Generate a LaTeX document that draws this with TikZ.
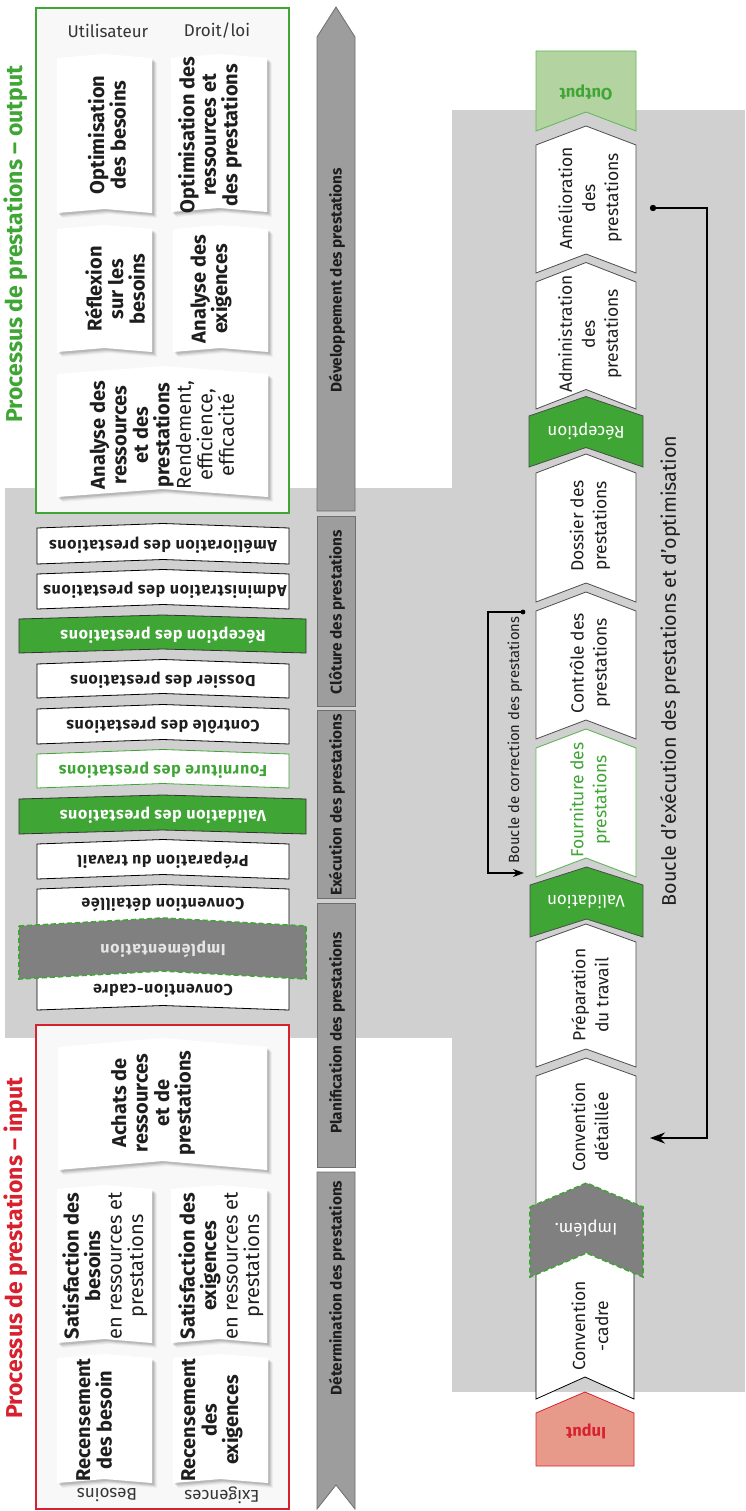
\documentclass[tikz,border=0pt]{standalone}
\usepackage{fontspec}
\setmainfont{Fira Sans}
\newfontfamily\trackfont[LetterSpace=4]{Fira Sans}
\usetikzlibrary{arrows.meta}

\definecolor{fgreen}{HTML}{3FA535}
\definecolor{lgreen}{HTML}{B3D3A0}
\definecolor{mgreen}{HTML}{62B55A}
\definecolor{fred}{HTML}{D7212F}
\definecolor{lred}{HTML}{E89A8A}
\definecolor{bggray}{HTML}{D0D0D0}
\definecolor{bandgray}{HTML}{9D9D9D}
\definecolor{banddraw}{HTML}{6E6E6E}
\definecolor{implgray}{HTML}{808080}
\definecolor{boxfill}{HTML}{F8F8F8}
\definecolor{txt}{HTML}{1E1E1E}
\definecolor{chevdraw}{HTML}{4D4D4D}

% flat chevron pointing up: x1, x2, top of sides, bottom of sides, depth of the tip
\newcommand{\chevshape}[6][]{%
  \path[#1] (#2,#4) -- ({(#2+#3)/2},{#4-#6}) -- (#3,#4) -- (#3,#5)
    -- ({(#2+#3)/2},{#5-#6}) -- (#2,#5) -- cycle;}
% white card with a soft shadow
\newcommand{\cardshape}[5]{%
  \foreach \s/\o in {5/0.04,4/0.06,3/0.08,2/0.10}
    {\chevshape[fill=black,opacity=\o,shift={(\s,\s)}]{#1}{#2}{#3}{#4}{#5}}
  \chevshape[fill=white]{#1}{#2}{#3}{#4}{#5}}

\tikzset{
  lbar/.style={draw=black,line width=0.8pt,fill=white},
  lbargreen/.style={draw=black!80,line width=0.8pt,fill=fgreen},
  rchev/.style={draw=chevdraw,line width=0.8pt,fill=white},
  rchevgreen/.style={draw=black!70,line width=0.8pt,fill=fgreen},
  implshape/.style={fill=implgray,draw=fgreen,line width=1.6pt,dash pattern=on 5pt off 3pt},
  bandseg/.style={fill=bandgray,draw=banddraw,line width=0.8pt},
  barlabel/.style={inner sep=0pt,rotate=180,text=txt,font=\trackfont\bfseries\fontsize{16}{19}\selectfont},
  chevlabel/.style={inner sep=0pt,rotate=90,align=center,text=txt,font=\fontsize{17.5}{23}\selectfont},
  fliplabel/.style={inner sep=0pt,rotate=180,text=white,font=\fontsize{17}{20}\selectfont},
  cardlabel/.style={inner sep=0pt,rotate=90,align=center,text=txt,font=\bfseries\fontsize{20}{21.5}\selectfont},
  bandlabel/.style={inner sep=0pt,rotate=90,text=txt,font=\bfseries\fontsize{15.4}{17}\selectfont},
  headlabel/.style={inner sep=0pt,text=txt!90,font=\fontsize{17}{20}\selectfont},
  titlelabel/.style={inner sep=0pt,rotate=90,font=\bfseries\fontsize{23}{27}\selectfont},
}

\begin{document}
\begin{tikzpicture}[x=1pt,y=-1pt]
\useasboundingbox (0,0) rectangle (745,1511);

% grey backgrounds
\fill[bggray] (5,488) rectangle (452,1038);
\fill[bggray] (452,110) rectangle (745,1392);

% ---------- output box ----------
\draw[fgreen,line width=2pt,fill=boxfill] (36,8) rectangle (289,513);
\node[titlelabel,text=fgreen] (titleout) at (16,244) {Processus de prestations – output};
\node[headlabel] (hdruser) at (108,31) {Utilisateur};
\node[headlabel] (hdrlaw) at (217,31) {Droit/loi};

\cardshape{57}{152}{58}{213}{4}
\cardshape{171}{267}{58}{212}{4}
\cardshape{57}{152}{229}{352}{4}
\cardshape{173}{268}{229}{352}{4}
\cardshape{57}{268}{374}{497}{8}
\node[cardlabel] (optbes) at (107,135) {Optimisation\\des besoins};
\node[cardlabel] (optres) at (210,135) {Optimisation des\\ressources et\\des prestations};
\node[cardlabel] (reflex) at (115,289) {Réflexion\\sur les\\besoins};
\node[cardlabel] (anaexi) at (211,289) {Analyse des\\exigences};
\node[cardlabel] (anares) at (162,435) {Analyse des\\ressources\\et des\\prestations\\\mdseries Rendement,\\\mdseries efficience,\\\mdseries efficacité};

% ---------- input box ----------
\draw[fred,line width=2pt,fill=boxfill] (36,1025) rectangle (289,1509);
\node[titlelabel,text=fred] (titlein) at (16,1248) {Processus de prestations – input};
\node[headlabel,rotate=180] (hdrbes) at (107,1495) {Besoins};
\node[headlabel,rotate=180] (hdrexi) at (222,1495) {Exigences};

\cardshape{58}{267}{1047}{1170}{9}
\cardshape{57}{152}{1189}{1343}{4}
\cardshape{171}{267}{1189}{1343}{4}
\cardshape{57}{152}{1358}{1483}{4}
\cardshape{173}{268}{1358}{1483}{4}
\node[cardlabel] (achats) at (153,1103) {Achats de\\ressources\\et de\\prestations};
\node[cardlabel] (satbes) at (105,1266) {Satisfaction des\\besoins\\\mdseries en ressources et\\\mdseries prestations};
\node[cardlabel] (satexi) at (221,1266) {Satisfaction des\\exigences\\\mdseries en ressources et\\\mdseries prestations};
\node[cardlabel] (recbes) at (94,1420) {Recensement\\des besoin};
\node[cardlabel] (recexi) at (212,1420) {Recensement\\des\\exigences};

% ---------- left step bars ----------
\chevshape[lbar]{37}{289}{528}{564}{4.5}
\chevshape[lbar]{37}{289}{574}{609}{4.5}
\chevshape[lbargreen]{19}{306}{619}{653}{4}
\chevshape[lbar]{37}{289}{664}{698}{4.5}
\chevshape[lbar]{37}{289}{709}{744}{4.5}
\chevshape[draw=fgreen,line width=0.8pt,fill=white]{37}{289}{754}{788}{4.5}
\chevshape[lbargreen]{19}{306}{799}{834}{4}
\chevshape[lbar]{37}{289}{844}{879}{4.5}
\chevshape[lbar]{37}{289}{889}{940}{4.5}
\chevshape[lbar]{37}{289}{960}{1010}{4.5}
\chevshape[implshape]{19}{306}{926}{979}{8}

\node[barlabel] (lamel) at (163,545) {Amélioration des prestations};
\node[barlabel] (ladmin) at (165,590) {Administration des prestations};
\node[barlabel,text=white] (lrecep) at (163,635) {Réception des prestations};
\node[barlabel] (ldoss) at (163,680) {Dossier des prestations};
\node[barlabel] (lctrl) at (163,725) {Contrôle des prestations};
\node[barlabel,text=fgreen] (lfourn) at (163,770) {Fourniture des prestations};
\node[barlabel,text=white] (lvalid) at (163,815) {Validation des prestations};
\node[barlabel] (lprep) at (163,860) {Préparation du travail};
\node[barlabel] (lconvd) at (163,905) {Convention détaillée};
\node[barlabel,text=black!10] (limpl) at (163,949) {Implémentation};
\node[barlabel] (lconvc) at (163,991) {Convention-cadre};

% ---------- phase band ----------
\path[bandseg] (317,37) -- (336,7) -- (355,37) -- (355,511) -- (317,511) -- cycle;
\path[bandseg] (317,516) rectangle (355,706);
\path[bandseg] (317,710) rectangle (355,898);
\path[bandseg] (317,903) rectangle (355,1167);
\path[bandseg] (317,1172) -- (355,1172) -- (355,1509) -- (336,1485) -- (317,1509) -- cycle;
\node[bandlabel] (pdev) at (337,280) {Développement des prestations};
\node[bandlabel] (pclot) at (337,612) {Clôture des prestations};
\node[bandlabel] (pexec) at (337,805) {Exécution des prestations};
\node[bandlabel] (pplan) at (337,1033) {Planification des prestations};
\node[bandlabel] (pdet) at (337,1288) {Détermination des prestations};

% ---------- right process chain ----------
\path[fill=lgreen,draw=mgreen,line width=0.8pt] (536,51) -- (636,51) -- (636,131) -- (586,112) -- (536,131) -- cycle;
\chevshape[rchev]{536}{636}{145}{273}{19}
\chevshape[rchev]{536}{636}{282}{409}{19.5}
\chevshape[rchevgreen]{529}{643}{416}{467}{19.5}
\chevshape[rchev]{536}{636}{473}{602}{19}
\chevshape[rchev]{536}{636}{611}{739}{19}
\chevshape[draw=mgreen,line width=0.9pt,fill=white]{536}{636}{748}{877}{19}
\chevshape[rchevgreen]{530}{643}{885}{937}{18}
\chevshape[rchev]{536}{636}{942}{1067}{18}
\chevshape[rchev]{536}{636}{1076}{1210}{18}
\chevshape[draw=black,line width=0.8pt,fill=white]{536}{634}{1262}{1399}{22}
\chevshape[implshape]{530}{643}{1207}{1277}{24}
\path[fill=lred,draw=fred,line width=0.8pt] (536,1413) -- (585,1392) -- (634,1413) -- (634,1466) -- (536,1466) -- cycle;

\node[fliplabel,text=fgreen,font=\bfseries\fontsize{16.5}{19}\selectfont] (rout) at (586,93) {Output};
\node[chevlabel] (ramel) at (590,198) {Amélioration\\des\\prestations};
\node[chevlabel] (radmin) at (590,334) {Administration\\des\\prestations};
\node[fliplabel] (rrecep) at (586,431) {Réception};
\node[chevlabel] (rdoss) at (590,526) {Dossier des\\prestations};
\node[chevlabel] (rctrl) at (590,663) {Contrôle des\\prestations};
\node[chevlabel,text=fgreen] (rfourn) at (590,800) {Fourniture des\\prestations};
\node[fliplabel] (rvalid) at (586,902) {Validation};
\node[chevlabel] (rprep) at (590,995) {Préparation\\du travail};
\node[chevlabel] (rconvd) at (590,1127) {Convention\\détaillée};
\node[fliplabel] (rimpl) at (586,1228) {Implém.};
\node[chevlabel] (rconvc) at (590,1326) {Convention\\-cadre};
\node[fliplabel,text=fred,font=\bfseries\fontsize{16.5}{19}\selectfont] (rin) at (586,1431) {Input};

% ---------- loops ----------
\coordinate (bigstart) at (653,208);
\coordinate (bigturn) at (707,208);
\coordinate (bigend) at (650,1138);
\fill (bigstart) circle (3.2);
\draw[line width=1.8pt,-{Stealth[length=15pt,width=11pt]}] (bigstart) -- (bigturn) |- (bigend);
\node[inner sep=0pt,rotate=90,text=txt,font=\fontsize{19.7}{23}\selectfont] (bigloop) at (670,671) {Boucle d'exécution des prestations et d'optimisation};

\coordinate (smallstart) at (523,612);
\coordinate (smallturn) at (488,612);
\coordinate (smallend) at (524,873);
\fill (smallstart) circle (2.4);
\draw[line width=1.1pt,-{Stealth[length=11pt,width=8pt]}] (smallstart) -- (smallturn) |- (smallend);
\node[inner sep=0pt,rotate=90,text=txt,font=\fontsize{14.8}{17}\selectfont] (smallloop) at (515,740) {Boucle de correction des prestations};
\end{tikzpicture}
\end{document}
